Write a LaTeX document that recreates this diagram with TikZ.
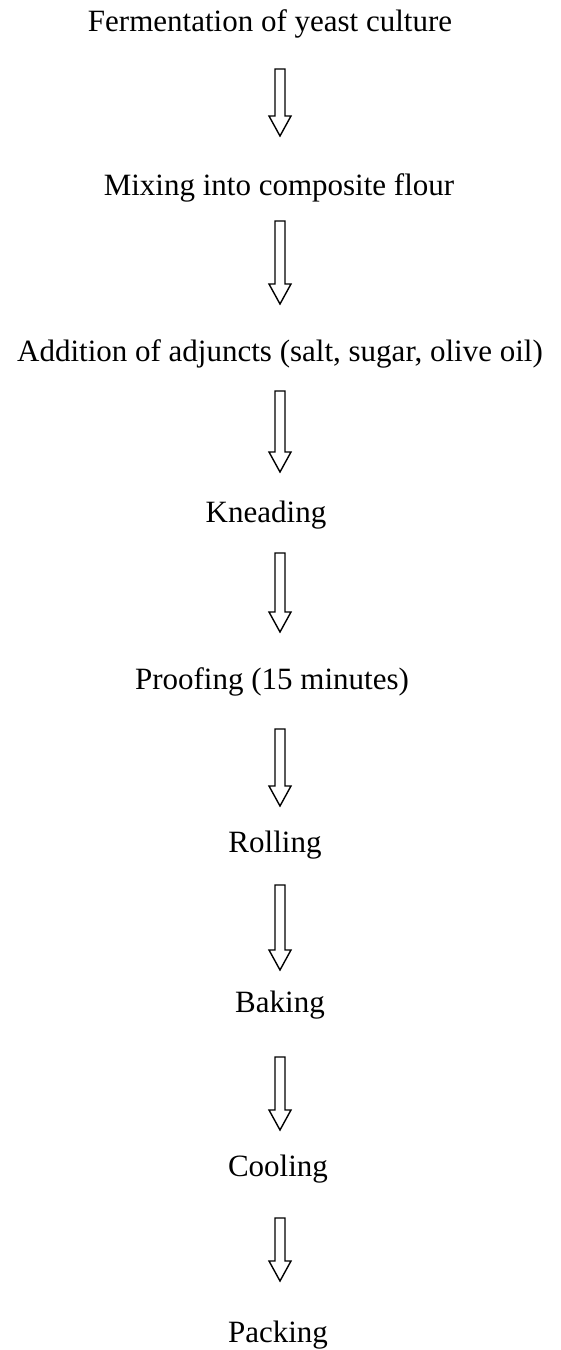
\documentclass[tikz,border=0pt]{standalone}
\usepackage{fontspec}
\setmainfont{Liberation Serif}
\usetikzlibrary{calc}
\tikzset{
  lbl/.style={anchor=base, inner sep=0pt, font=\fontsize{31}{37}\selectfont},
  arrowline/.style={draw=black, line width=1.4pt, fill=white, line join=miter}
}
\newcommand\blockarrow[2]{%
  \draw[arrowline] let \p1=(#1), \p2=(#2) in
    ($(\x1,\y1)+(-5pt,0)$) -- ($(\x1,\y1)+(5pt,0)$) -- ($(\x1,\y2)+(5pt,20pt)$) --
    ($(\x1,\y2)+(11pt,20pt)$) -- (\x1,\y2) -- ($(\x1,\y2)+(-11pt,20pt)$) --
    ($(\x1,\y2)+(-5pt,20pt)$) -- cycle;}
\begin{document}
\begin{tikzpicture}[x=1pt,y=1pt]
\useasboundingbox (0,0) rectangle (561,1350);
\def\X{280}
\node[lbl] (t1) at (\X-10,1350-32) {Fermentation of yeast culture};
\node[lbl] (t2) at (\X-1,1350-196) {Mixing into composite flour};
\node[lbl] (t3) at (\X,1350-362) {Addition of adjuncts (salt, sugar, olive oil)};
\node[lbl] (t4) at (\X-14,1350-523) {Kneading};
\node[lbl] (t5) at (\X-8,1350-690) {Proofing (15 minutes)};
\node[lbl] (t6) at (\X-5,1350-853) {Rolling};
\node[lbl] (t7) at (\X,1350-1013) {Baking};
\node[lbl] (t8) at (\X-2,1350-1177) {Cooling};
\node[lbl] (t9) at (\X-2,1350-1342) {Packing};
\coordinate (a1s) at (\X,1350-69);   \coordinate (a1e) at (\X,1350-136);
\coordinate (a2s) at (\X,1350-221);  \coordinate (a2e) at (\X,1350-304);
\coordinate (a3s) at (\X,1350-391);  \coordinate (a3e) at (\X,1350-472);
\coordinate (a4s) at (\X,1350-553);  \coordinate (a4e) at (\X,1350-632);
\coordinate (a5s) at (\X,1350-729);  \coordinate (a5e) at (\X,1350-806);
\coordinate (a6s) at (\X,1350-885);  \coordinate (a6e) at (\X,1350-970);
\coordinate (a7s) at (\X,1350-1057); \coordinate (a7e) at (\X,1350-1130);
\coordinate (a8s) at (\X,1350-1218); \coordinate (a8e) at (\X,1350-1281);
\blockarrow{a1s}{a1e}
\blockarrow{a2s}{a2e}
\blockarrow{a3s}{a3e}
\blockarrow{a4s}{a4e}
\blockarrow{a5s}{a5e}
\blockarrow{a6s}{a6e}
\blockarrow{a7s}{a7e}
\blockarrow{a8s}{a8e}
\end{tikzpicture}
\end{document}
